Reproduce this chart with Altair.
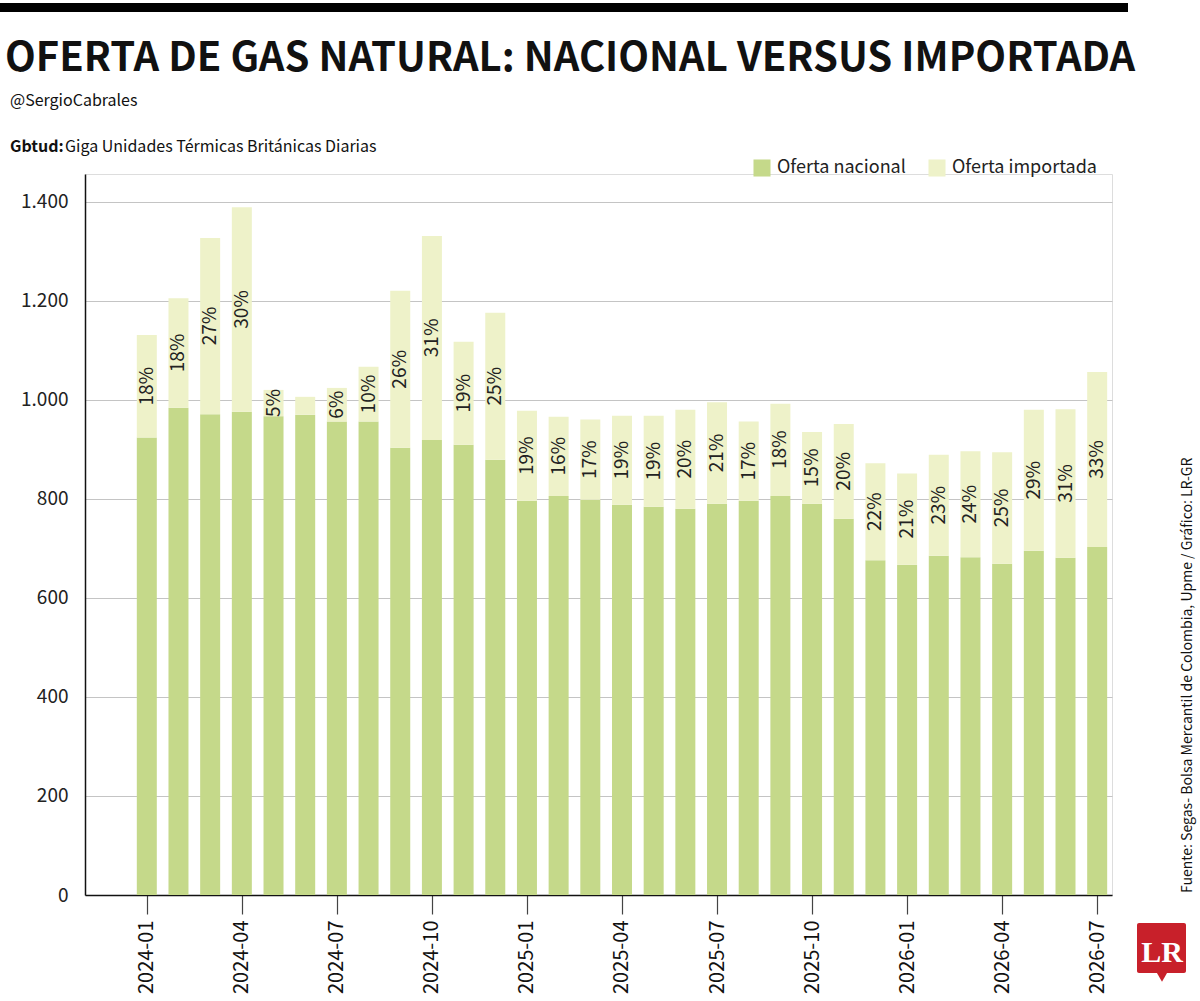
import altair as alt
import pandas as pd

months = ["2024-01","2024-02","2024-03","2024-04","2024-05","2024-06","2024-07","2024-08","2024-09","2024-10","2024-11","2024-12",
          "2025-01","2025-02","2025-03","2025-04","2025-05","2025-06","2025-07","2025-08","2025-09","2025-10","2025-11","2025-12",
          "2026-01","2026-02","2026-03","2026-04","2026-05","2026-06","2026-07"]
nacional = [924, 984, 971, 976, 967, 970, 956, 956, 903, 919, 909, 879,
            796, 806, 798, 788, 784, 780, 790, 796, 806, 790, 760, 676,
            667, 685, 682, 669, 695, 681, 703]
total = [1131, 1205, 1327, 1389, 1020, 1006, 1024, 1067, 1220, 1331, 1117, 1176,
         978, 966, 960, 968, 968, 980, 995, 956, 992, 935, 951, 872,
         851, 889, 896, 894, 980, 981, 1056]
pct_labels = ["18%","18%","27%","30%","5%","","6%","10%","26%","31%","19%","25%",
              "19%","16%","17%","19%","19%","20%","21%","17%","18%","15%","20%","22%",
              "21%","23%","24%","25%","29%","31%","33%"]
series = ["Oferta nacional", "Oferta importada"]
colors = ["#c5d98a", "#eef2c9"]
tick_idx = [0, 3, 6, 9, 12, 15, 18, 21, 24, 27, 30]
y_ticks = [0, 200, 400, 600, 800, 1000, 1200, 1400]

TITLE = "OFERTA DE GAS NATURAL: NACIONAL VERSUS IMPORTADA"
AUTHOR = "@SergioCabrales"
UNIT_BOLD = "Gbtud:"
UNIT_TEXT = "Giga Unidades Térmicas Británicas Diarias"
SOURCE = "Fuente: Segas- Bolsa Mercantil de Colombia, Upme / Gráfico: LR-GR"

FONT = "Noto Sans CJK SC, Roboto, sans-serif"

rows = []
for i, m in enumerate(months):
    rows.append({"idx": i, "month": m, "serie": series[0], "y0": 0, "y1": nacional[i], "mid": None, "lab": ""})
    rows.append({"idx": i, "month": m, "serie": series[1], "y0": nacional[i], "y1": total[i],
                 "mid": (nacional[i] + total[i]) / 2, "lab": pct_labels[i]})
df = pd.DataFrame(rows)
lab_df = df[(df["serie"] == series[1]) & (df["lab"] != "")]

W, H = 1027, 721
label_arr = "[" + ",".join("'%s'" % m for m in months) + "]"

xscale = alt.Scale(domain=[-1.793, 30.31], nice=False, zero=False)
yscale = alt.Scale(domain=[0, 1456], nice=False)

bars = alt.Chart(df).mark_bar(width=20).encode(
    x=alt.X("idx:Q", scale=xscale,
            axis=alt.Axis(values=tick_idx, title=None, grid=False, labelAngle=-90,
                          labelExpr=label_arr + "[datum.value]",
                          labelFont=FONT, labelFontSize=20, labelColor="#111",
                          labelAlign="right", labelBaseline="middle", labelPadding=6,
                          tickSize=19, tickColor="#444", tickWidth=1.2,
                          domainColor="#111", domainWidth=1.5)),
    y=alt.Y("y0:Q", scale=yscale,
            axis=alt.Axis(values=y_ticks, title=None, grid=True, gridColor="#c4c4c4", gridWidth=1.2,
                          ticks=False, labelFont=FONT, labelFontSize=19, labelColor="#222",
                          labelPadding=17,
                          labelExpr="replace(format(datum.value, ','), ',', '.')",
                          domainColor="#111", domainWidth=1.5)),
    y2="y1:Q",
    color=alt.Color("serie:N", scale=alt.Scale(domain=series, range=colors), sort=series,
                    legend=alt.Legend(orient="none", legendX=668, legendY=-15, direction="horizontal",
                                      title=None, symbolType="square", symbolSize=290,
                                      symbolStrokeWidth=0, labelFont=FONT, labelFontSize=18,
                                      labelColor="#222", columnPadding=22, labelOffset=6)),
    order=alt.Order("serie:N", sort="descending"),
)

labels = alt.Chart(lab_df).mark_text(angle=270, font=FONT, fontSize=19, color="#222",
                                     align="center", baseline="middle").encode(
    x=alt.X("idx:Q", scale=xscale),
    y=alt.Y("mid:Q", scale=yscale),
    text="lab:N",
)

def txt(s, x, y, size, weight="normal", angle=0, align="left", color="#111", font=FONT):
    return alt.Chart(pd.DataFrame({"t": [s]})).mark_text(
        font=font, fontSize=size, fontWeight=weight, angle=angle, align=align,
        baseline="alphabetic", color=color).encode(
        x=alt.value(x), y=alt.value(y), text="t:N")

OX, OY = 85, 174
topbar = alt.Chart(pd.DataFrame({"a": [1]})).mark_rect(color="#000").encode(
    x=alt.value(0 - OX), x2=alt.value(1128 - OX), y=alt.value(3 - OY), y2=alt.value(12 - OY))
logo = alt.Chart(pd.DataFrame({"a": [1]})).mark_rect(color="#c8202a", cornerRadius=2).encode(
    x=alt.value(1137 - OX), x2=alt.value(1186 - OX), y=alt.value(923 - OY), y2=alt.value(973 - OY))
pointer = alt.Chart(pd.DataFrame({"a": [1]})).mark_point(shape="triangle-down", filled=True,
                                                          color="#c8202a", size=120, opacity=1).encode(
    x=alt.value(1162 - OX), y=alt.value(977 - OY))
logo_txt = txt("LR", 1162 - OX, 962 - OY, 30, weight="bold", align="center", color="#ffffff",
               font="Liberation Serif, DejaVu Serif, serif")

chart = alt.layer(
    bars, labels, topbar,
    txt(TITLE, 5 - OX, 71 - OY, 40, weight="bold"),
    txt(AUTHOR, 10 - OX, 106 - OY, 16),
    txt(UNIT_BOLD, 10 - OX, 152 - OY, 16, weight="bold"),
    txt(UNIT_TEXT, 65 - OX, 152 - OY, 16),
    txt(SOURCE, 1192 - OX, 893 - OY, 14, angle=270),
    logo, pointer, logo_txt,
).properties(
    width=W, height=H,
    padding={"left": OX, "top": OY, "right": 1200 - OX - W, "bottom": 1001 - OY - H},
    autosize=alt.AutoSizeParams(type="none"),
).configure_view(stroke=None).configure(background="#ffffff")

chart.save("out.html", embed_options={"renderer": "svg", "actions": False})
